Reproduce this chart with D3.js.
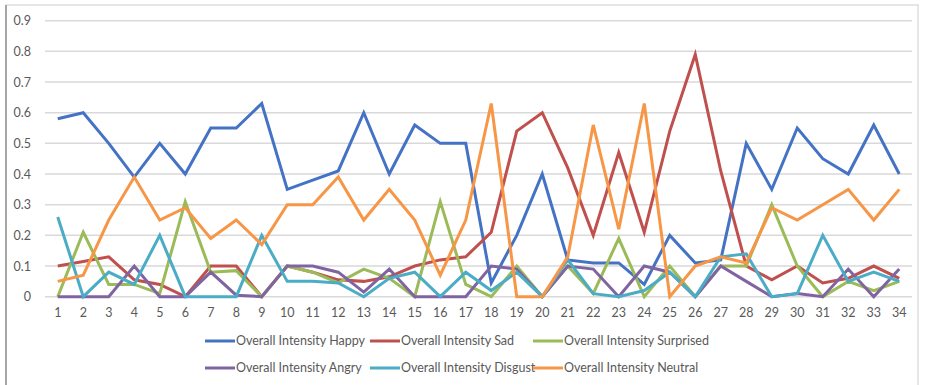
<!DOCTYPE html>
<html>
<head>
<meta charset="utf-8">
<script src="https://cdn.jsdelivr.net/npm/d3@7/dist/d3.min.js"></script>
<style>
  html, body { margin: 0; padding: 0; background: #fff; }
  svg { display: block; }
  text { font-family: Lato, "Open Sans", "Liberation Sans", sans-serif; fill: #595959; }
</style>
</head>
<body>
<svg id="chart" width="926" height="385"></svg>
<script>
// Subjects 1..34
const categories = d3.range(1, 35).map(String);

const happy     = [0.58,0.60,0.50,0.39,0.50,0.40,0.55,0.55,0.63,0.35,0.38,0.41,0.60,0.40,0.56,0.50,0.50,0.045,0.20,0.40,0.12,0.11,0.11,0.04,0.20,0.11,0.12,0.50,0.35,0.55,0.45,0.40,0.56,0.40];
const sad       = [0.10,0.115,0.13,0.055,0.04,0.00,0.10,0.10,0.00,0.10,0.08,0.055,0.05,0.065,0.10,0.12,0.13,0.21,0.54,0.60,0.42,0.20,0.47,0.21,0.54,0.79,0.41,0.10,0.055,0.10,0.045,0.06,0.10,0.06];
const surprised = [0.00,0.21,0.04,0.04,0.01,0.31,0.08,0.085,0.00,0.10,0.08,0.045,0.09,0.06,0.00,0.31,0.04,0.00,0.10,0.00,0.10,0.01,0.19,0.00,0.10,0.00,0.10,0.10,0.30,0.10,0.00,0.05,0.02,0.05];
const angry     = [0.00,0.00,0.00,0.10,0.00,0.00,0.08,0.005,0.00,0.10,0.10,0.08,0.015,0.09,0.00,0.00,0.00,0.10,0.09,0.00,0.10,0.09,0.00,0.10,0.08,0.00,0.10,0.05,0.00,0.01,0.00,0.09,0.00,0.09];
const disgust   = [0.26,0.00,0.08,0.04,0.20,0.00,0.00,0.00,0.20,0.05,0.05,0.045,0.00,0.06,0.08,0.00,0.08,0.02,0.08,0.00,0.12,0.01,0.00,0.02,0.08,0.00,0.13,0.14,0.00,0.01,0.20,0.05,0.08,0.05];
const neutral   = [0.05,0.07,0.25,0.39,0.25,0.29,0.19,0.25,0.17,0.30,0.30,0.39,0.25,0.35,0.25,0.07,0.25,0.63,0.00,0.00,0.13,0.56,0.22,0.63,0.00,0.10,0.13,0.11,0.29,0.25,0.30,0.35,0.25,0.35];

const seriesNames  = ["Overall Intensity Happy","Overall Intensity Sad","Overall Intensity Surprised","Overall Intensity Angry","Overall Intensity Disgust","Overall Intensity Neutral"];
const seriesColors = ["#4472C4","#C0504D","#9BBB59","#8064A2","#4BACC6","#F79646"];
const yTicks = [0,0.1,0.2,0.3,0.4,0.5,0.6,0.7,0.8,0.9];

const seriesValues = [happy, sad, surprised, angry, disgust, neutral];
const series = seriesNames.map((name, i) => ({ name, color: seriesColors[i], values: seriesValues[i] }));

const svg = d3.select("#chart");
const labelFont = "12.5px";

// outer chart frame
svg.append("rect")
  .attr("x", 6).attr("y", 5).attr("width", 912).attr("height", 390)
  .attr("fill", "none").attr("stroke", "#d6d6d6").attr("stroke-width", 1.2);
svg.append("line")
  .attr("x1", 6).attr("x2", 6).attr("y1", 5).attr("y2", 385)
  .attr("stroke", "#a6a6a6").attr("stroke-width", 2);

const x = d3.scaleBand().domain(categories).range([45, 912]);
const y = d3.scaleLinear().domain([0, 0.9]).range([296.7, 20.7]);
const cx = c => x(c) + x.bandwidth() / 2;

// horizontal gridlines
svg.append("g")
  .selectAll("line")
  .data(yTicks)
  .join("line")
  .attr("x1", 45).attr("x2", 912)
  .attr("y1", d => y(d)).attr("y2", d => y(d))
  .attr("stroke", "#d9d9d9").attr("stroke-width", 1.5);

// y axis labels
const yAxis = d3.axisLeft(y).tickValues(yTicks).tickSize(0).tickPadding(0)
  .tickFormat(d => d === 0 ? "0" : d3.format(".1f")(d));
svg.append("g")
  .attr("transform", "translate(31,0)")
  .call(yAxis)
  .call(g => g.select(".domain").remove())
  .call(g => g.selectAll("text").style("font-size", labelFont).attr("fill", "#595959")
     .style("font-family", "Lato, 'Open Sans', sans-serif"));

// x axis labels
const xAxis = d3.axisBottom(x).tickSize(0).tickPadding(0);
svg.append("g")
  .attr("transform", "translate(0,308)")
  .call(xAxis)
  .call(g => g.select(".domain").remove())
  .call(g => g.selectAll("text").style("font-size", labelFont).attr("fill", "#595959")
     .style("font-family", "Lato, 'Open Sans', sans-serif"));

// series lines
const line = d3.line().x((d, i) => cx(categories[i])).y(d => y(d));
svg.append("g")
  .selectAll("path")
  .data(series)
  .join("path")
  .attr("d", s => line(s.values))
  .attr("fill", "none")
  .attr("stroke", s => s.color)
  .attr("stroke-width", 3)
  .attr("stroke-linejoin", "miter");

// legend
const legendCols = [205, 370, 533];
const legendRows = [341, 368];
const legend = svg.append("g");
series.forEach((s, i) => {
  const lx = legendCols[i % 3];
  const ly = legendRows[Math.floor(i / 3)];
  legend.append("line")
    .attr("x1", lx).attr("x2", lx + 30).attr("y1", ly).attr("y2", ly)
    .attr("stroke", s.color).attr("stroke-width", 3);
  legend.append("text")
    .attr("x", lx + 31).attr("y", ly).attr("dy", "0.35em")
    .style("font-size", labelFont)
    .text(s.name);
});
</script>
</body>
</html>
